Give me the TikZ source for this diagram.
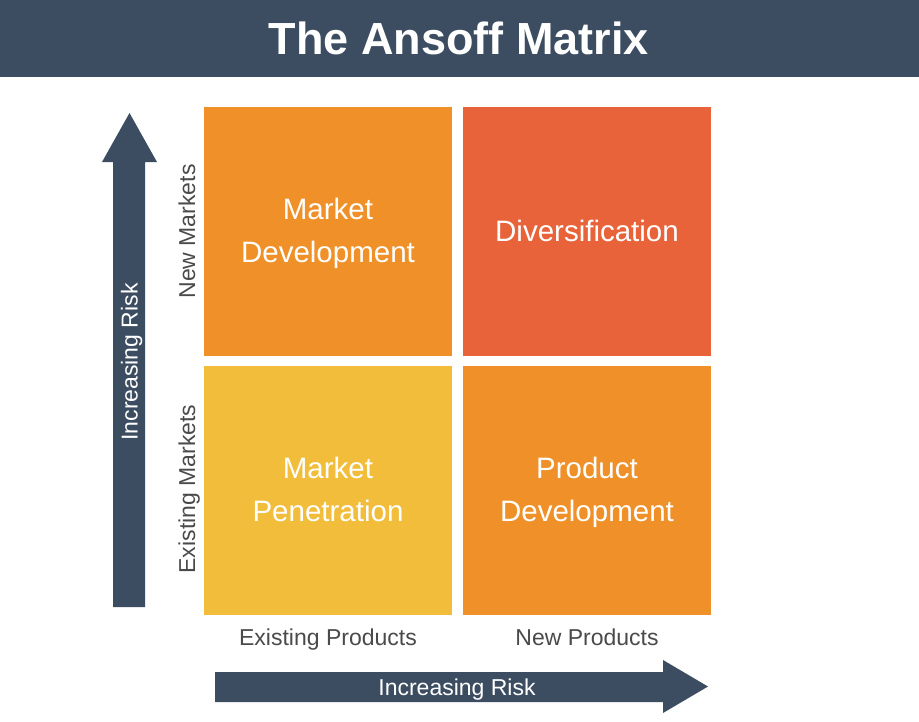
\documentclass[tikz,border=0pt]{standalone}
\usepackage{fontspec}
\setmainfont{Liberation Sans}
\usetikzlibrary{positioning}
\definecolor{slate}{HTML}{3C4D61}
\definecolor{orangebox}{HTML}{EF9128}
\definecolor{redbox}{HTML}{E9633A}
\definecolor{yellowbox}{HTML}{F1BD3A}
\definecolor{labelgray}{HTML}{4A4A4A}
\newcommand{\qtop}{\rule{0pt}{28pt}}
\newcommand{\qbot}{\rule[-9pt]{0pt}{9pt}}
\tikzset{
  quad/.style={fill=#1, minimum width=248pt, minimum height=249pt, inner sep=0pt, text=white,
    align=center, font=\fontsize{29.5}{43}\selectfont},
  axislabel/.style={text=labelgray, font=\fontsize{23}{27}\selectfont, inner sep=0pt, anchor=base},
  arrowtext/.style={text=white, font=\fontsize{23}{27}\selectfont, inner sep=0pt, anchor=base},
  bigarrow/.style={fill=slate, draw=none}
}
\begin{document}
\begin{tikzpicture}[x=1pt,y=-1pt]
\useasboundingbox (0,0) rectangle (919,721);
\fill[white] (0,0) rectangle (919,721);
% title band
\fill[slate] (0,0) rectangle (919,77);
\node[text=white, font=\fontsize{45}{50}\selectfont\bfseries, inner sep=0pt, anchor=base] (title) at (459,54) {The Ansoff Matrix};
% quadrants
\node[quad=orangebox] (md) at (328,231.5) {\qtop Market\\Development\qbot};
\node[quad=redbox] (dv) at (587,231.5) {\qtop Diversification\qbot};
\node[quad=yellowbox] (mp) at (328,490) {\qtop Market\\Penetration\qbot};
\node[quad=orangebox] (pd) at (587,490) {\qtop Product\\Development\qbot};
% vertical arrow
\fill[bigarrow] (113,607) -- (113,162) -- (102,162) -- (129.5,113) -- (157,162) -- (145,162) -- (145,607) -- cycle;
\node[arrowtext, rotate=90] (vrisk) at (137.5,362) {Increasing Risk};
% horizontal arrow
\fill[bigarrow] (215,672) -- (663,672) -- (663,660) -- (708,686.5) -- (663,713) -- (663,702) -- (215,702) -- cycle;
\node[arrowtext] (hrisk) at (457,695) {Increasing Risk};
% axis labels
\node[axislabel, rotate=90] (newm) at (195,231.5) {New Markets};
\node[axislabel, rotate=90] (exm) at (195,489) {Existing Markets};
\node[axislabel] (exp) at (328,645) {Existing Products};
\node[axislabel] (newp) at (587,645) {New Products};
\end{tikzpicture}
\end{document}
